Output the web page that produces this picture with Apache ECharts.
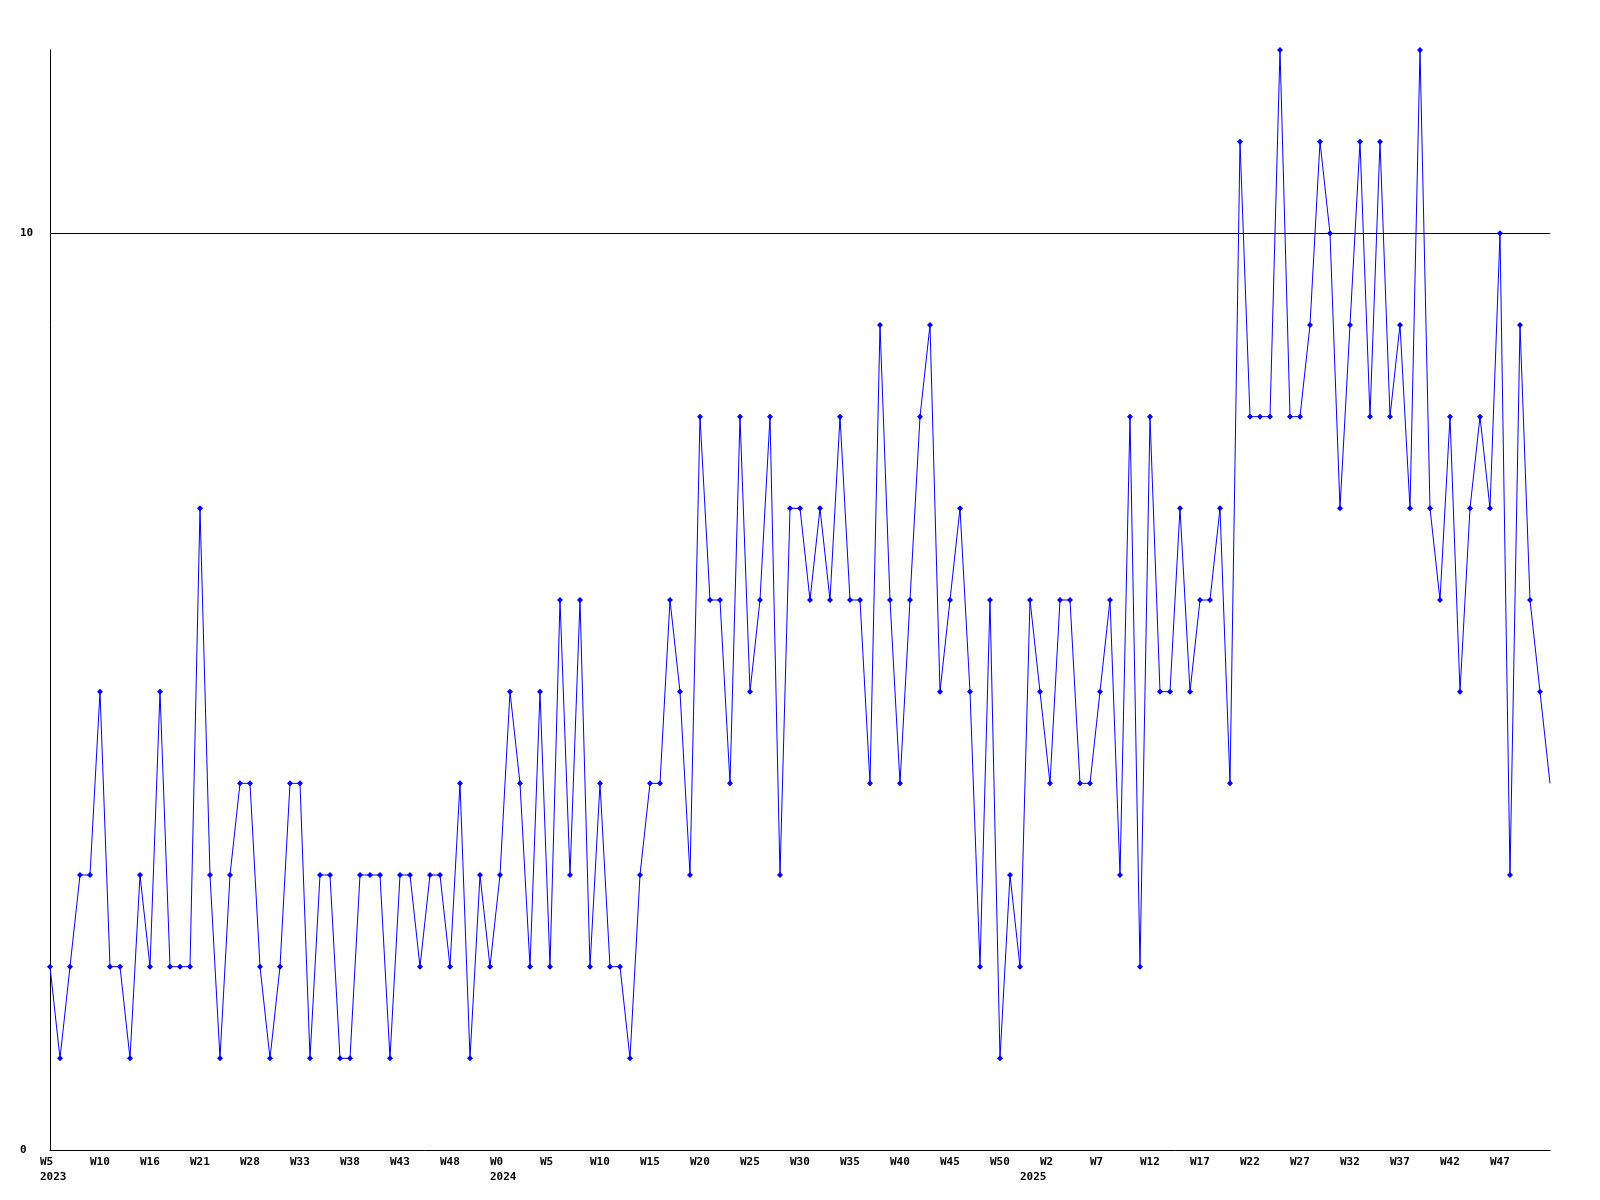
<!DOCTYPE html>
<html>
<head>
<meta charset="utf-8">
<script src="https://cdn.jsdelivr.net/npm/echarts@6/dist/echarts.min.js"></script>
<style>html,body{margin:0;padding:0;background:#fff}#c{width:1600px;height:1200px}</style>
</head>
<body>
<div id="c"></div>
<script>
// Weekly values, one per point (151 points)
const values = [
  2,1,2,3,3,5,2,2,1,3,
  2,5,2,2,2,7,3,1,3,4,
  4,2,1,2,4,4,1,3,3,1,
  1,3,3,3,1,3,3,2,3,3,
  2,4,1,3,2,3,5,4,2,5,
  2,6,3,6,2,4,2,2,1,3,
  4,4,6,5,3,8,6,6,4,8,
  5,6,8,3,7,7,6,7,6,8,
  6,6,4,9,6,4,6,8,9,5,
  6,7,5,2,6,1,3,2,6,5,
  4,6,6,4,4,5,6,3,8,2,
  8,5,5,7,5,6,6,7,4,11,
  8,8,8,12,8,8,9,11,10,7,
  9,11,8,11,8,9,7,12,7,6,
  8,5,7,8,7,10,3,9,6,5,
  4
];
// Tick labels shown every 5th point
const weekLabels = ['W5','W10','W16','W21','W28','W33','W38','W43','W48','W0',
  'W5','W10','W15','W20','W25','W30','W35','W40','W45','W50',
  'W2','W7','W12','W17','W22','W27','W32','W37','W42','W47'];
const yearLabels = {0: '2023', 9: '2024', 20: '2025'};
const yTickLabels = {0: '0', 10: '10'};
const refLine = 10;

const FONT = 'DejaVu Sans Mono';
const data = values.map((v, i) => i === values.length - 1
  ? {value: [i, v], symbolSize: 0}
  : [i, v]);

const tokenBase = {fontFamily: FONT, fontWeight: 'bold', fontSize: 11, color: '#000', lineHeight: 15, align: 'left'};

const chart = echarts.init(document.getElementById('c'), null, {renderer: 'canvas'});
chart.setOption({
  animation: false,
  backgroundColor: '#fff',
  grid: {left: 50, right: 50, top: 50, bottom: 50, containLabel: false},
  xAxis: {
    type: 'value', min: 0, max: values.length - 1, interval: 5,
    axisLine: {show: true, onZero: false, lineStyle: {color: '#000', width: 1}},
    axisTick: {show: false},
    splitLine: {show: false},
    axisLabel: {
      show: true, margin: 5, align: 'center', verticalAlign: 'top',
      showMinLabel: true, showMaxLabel: true, hideOverlap: false,
      formatter: function (v) {
        const k = Math.round(v / 5);
        const w = weekLabels[k];
        if (w === undefined) return '';
        const y = yearLabels[k];
        if (y === '2025') return '{sp| }{w|' + w + '}\n{y2|' + y + '}';
        return y ? '{w|' + w + '}\n{y|' + y + '}' : '{w|' + w + '}';
      },
      rich: {
        w: Object.assign({width: 20}, tokenBase),
        y: Object.assign({width: 20}, tokenBase),
        y2: Object.assign({width: 60}, tokenBase),
        sp: Object.assign({width: 20}, tokenBase)
      }
    }
  },
  yAxis: {
    type: 'value', min: 0, max: 12, interval: 10,
    axisLine: {show: true, lineStyle: {color: '#000', width: 1}},
    axisTick: {show: false},
    splitLine: {show: false},
    axisLabel: {
      show: true, margin: 30, align: 'left',
      fontFamily: FONT, fontWeight: 'bold', fontSize: 11, color: '#000',
      formatter: function (v) { return yTickLabels[v] !== undefined ? yTickLabels[v] : ''; }
    }
  },
  series: [{
    type: 'line',
    data: data,
    symbol: 'diamond',
    symbolSize: 6,
    showSymbol: true,
    showAllSymbol: true,
    lineStyle: {color: '#0000ff', width: 1},
    itemStyle: {color: '#0000ff'},
    emphasis: {disabled: true},
    markLine: {
      silent: true, symbol: 'none', animation: false,
      label: {show: false},
      lineStyle: {color: '#000', width: 1, type: 'solid'},
      data: [{yAxis: refLine}]
    }
  }]
});
</script>
</body>
</html>
